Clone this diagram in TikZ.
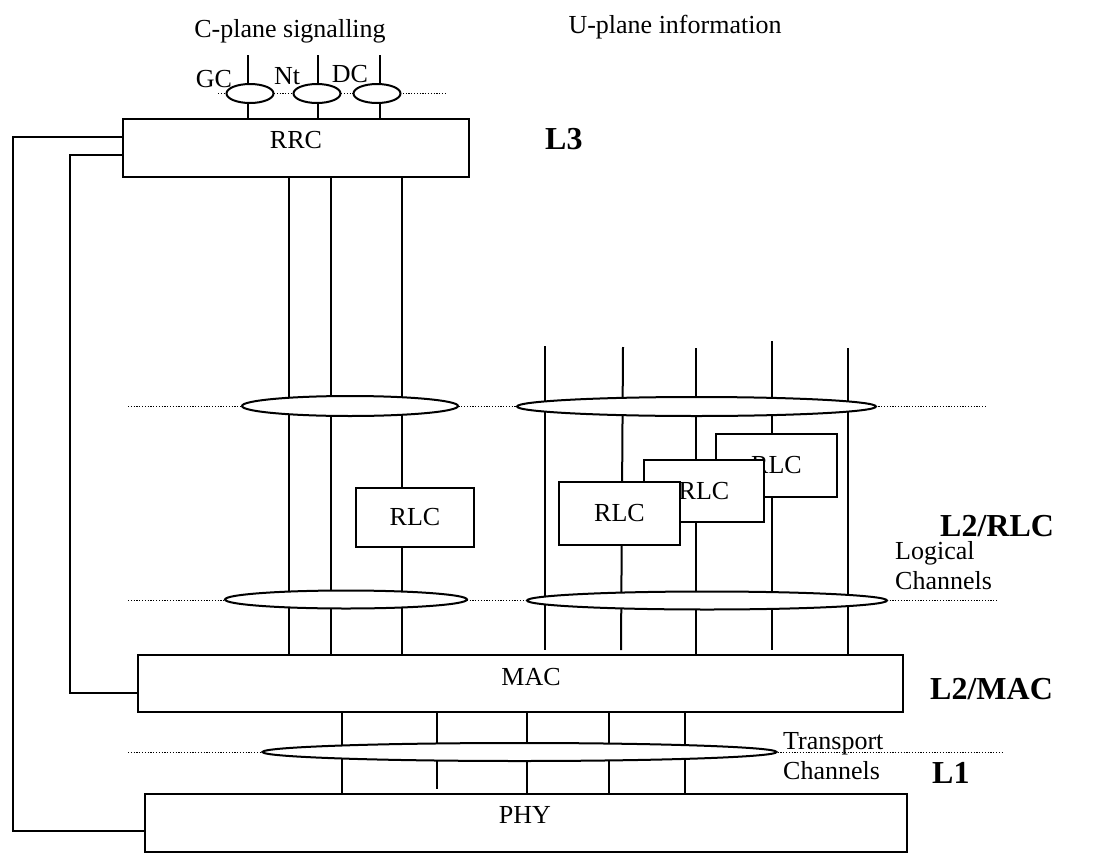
\documentclass[tikz,border=0pt]{standalone}
\usepackage{fontspec}
\setmainfont{Liberation Serif}
\usetikzlibrary{shapes.geometric}
\pgfdeclarelayer{bg}
\pgfsetlayers{bg,main}
\begin{document}
\begin{tikzpicture}[x=1pt,y=-1pt,
  wire/.style={line width=2pt},
  layerbox/.style={draw, line width=2pt, fill=white, rectangle, inner sep=0pt},
  chan/.style={draw, line width=2pt, fill=white, ellipse, inner sep=0pt},
  boundary/.style={line width=0.9pt, dash pattern=on 1.2pt off 1.6pt},
  txt/.style={font=\fontsize{26}{30}\selectfont, inner sep=0pt},
  layer/.style={font=\fontsize{32}{36}\selectfont\bfseries, inner sep=0pt, anchor=base west}]
\useasboundingbox (0,0) rectangle (1103,862);

% protocol entities
\node[layerbox, minimum width=346pt, minimum height=58pt] (rrc) at (296,148) {};
\node[layerbox, minimum width=765pt, minimum height=57pt] (mac) at (520.5,683.5) {};
\node[layerbox, minimum width=762pt, minimum height=58pt] (phy) at (526,823) {};
\node[txt, anchor=base] (rrct) at (296,148) {RRC};
\node[txt, anchor=base] (mact) at (531,685) {MAC};
\node[txt, anchor=base] (phyt) at (525,823) {PHY};

% RLC instances (rear to front)
\node[layerbox, txt, minimum width=118pt, minimum height=59pt] (rlcc) at (415,517.5) {RLC};
\node[layerbox, txt, minimum width=121pt, minimum height=63pt] (rlcu3) at (776.5,465.5) {RLC};
\node[layerbox, txt, minimum width=120pt, minimum height=62pt] (rlcu2) at (704,491) {RLC};
\node[layerbox, txt, minimum width=121pt, minimum height=63pt] (rlcu1) at (619.5,513.5) {RLC};

% service access point ellipses
\node[chan, minimum width=47pt, minimum height=19pt] (sapgc) at (250,93.5) {};
\node[chan, minimum width=47pt, minimum height=19pt] (sapnt) at (317,93.5) {};
\node[chan, minimum width=47pt, minimum height=19pt] (sapdc) at (377,93.5) {};
\node[chan, minimum width=216pt, minimum height=20pt] (rlcsapc) at (350,406) {};
\node[chan, minimum width=359pt, minimum height=19pt] (rlcsapu) at (696.5,406.5) {};
\node[chan, minimum width=242pt, minimum height=18pt] (logc) at (346,599.5) {};
\node[chan, minimum width=360pt, minimum height=18pt] (logu) at (707,600.5) {};
\node[chan, minimum width=514pt, minimum height=18pt] (trch) at (519.5,752) {};

\begin{pgfonlayer}{bg}
  % layer boundaries
  \coordinate (b0w) at (218,93);  \coordinate (b0e) at (447,93);
  \coordinate (b1w) at (128,406); \coordinate (b1e) at (985,406);
  \coordinate (b2w) at (128,600); \coordinate (b2e) at (997,600);
  \coordinate (b3w) at (128,752); \coordinate (b3e) at (1003,752);
  \draw[boundary] (b0w) -- (b0e);
  \draw[boundary] (b1w) -- (b1e);
  \draw[boundary] (b2w) -- (b2e);
  \draw[boundary] (b3w) -- (b3e);

  % control plane SAPs above RRC
  \coordinate (gctop) at (248,55);
  \coordinate (nttop) at (318,55);
  \coordinate (dctop) at (380,55);
  \draw[wire] (gctop) -- (rrc.north -| gctop);
  \draw[wire] (nttop) -- (rrc.north -| nttop);
  \draw[wire] (dctop) -- (rrc.north -| dctop);

  % control plane channels RRC -> MAC
  \coordinate (cp1) at (289,0);
  \coordinate (cp2) at (331,0);
  \coordinate (cp3) at (402,0);
  \draw[wire] (rrc.south -| cp1) -- (mac.north -| cp1);
  \draw[wire] (rrc.south -| cp2) -- (mac.north -| cp2);
  \draw[wire] (rrc.south -| cp3) -- (mac.north -| cp3);

  % user plane channels
  \coordinate (up1) at (545,346);
  \coordinate (up2) at (623,347);
  \coordinate (up3) at (696,348);
  \coordinate (up4) at (772,341);
  \coordinate (up5) at (848,348);
  \draw[wire] (up1) -- ([yshift=4pt]mac.north -| up1);
  \draw[wire] (up2) -- ([yshift=4pt,xshift=-2pt]mac.north -| up2);
  \draw[wire] (up3) -- (mac.north -| up3);
  \draw[wire] (up4) -- ([yshift=4pt]mac.north -| up4);
  \draw[wire] (up5) -- (mac.north -| up5);

  % transport channels MAC -> PHY
  \coordinate (tr1) at (342,0);
  \coordinate (tr2) at (437,0);
  \coordinate (tr3) at (527,0);
  \coordinate (tr4) at (609,0);
  \coordinate (tr5) at (685,0);
  \draw[wire] (mac.south -| tr1) -- (phy.north -| tr1);
  \draw[wire] (mac.south -| tr2) -- ([yshift=4pt]phy.north -| tr2);
  \draw[wire] (mac.south -| tr3) -- (phy.north -| tr3);
  \draw[wire] (mac.south -| tr4) -- (phy.north -| tr4);
  \draw[wire] (mac.south -| tr5) -- (phy.north -| tr5);

  % RRC control of PHY and MAC
  \draw[wire] ([yshift=11pt]rrc.west) -- (13,137) -- (13,831) -- ([yshift=-8pt,xshift=2pt]phy.west);
  \draw[wire] ([yshift=-7pt]rrc.west) -- (70,155) -- (70,693) -- ([yshift=-9.5pt]mac.west);
\end{pgfonlayer}

% headings and SAP labels
\node[txt, anchor=base] (cplane) at (290,37) {C-plane signalling};
\node[txt, anchor=base] (uplane) at (675,33) {U-plane information};
\node[txt, anchor=base] (gc) at (214,87) {GC};
\node[txt, anchor=base] (nt) at (287,84) {Nt};
\node[txt, anchor=base] (dc) at (350,82) {DC};

% channel type labels
\node[txt, anchor=north west, align=left] (logical) at (895,541) {Logical\\Channels};
\node[txt, anchor=north west, align=left] (transport) at (783,732) {Transport\\Channels};

% layer labels
\node[layer] (l3) at (545,149) {L3};
\node[layer] (l2rlc) at (940,536) {L2/RLC};
\node[layer] (l2mac) at (930,699) {L2/MAC};
\node[layer] (l1) at (932,783) {L1};
\end{tikzpicture}
\end{document}
